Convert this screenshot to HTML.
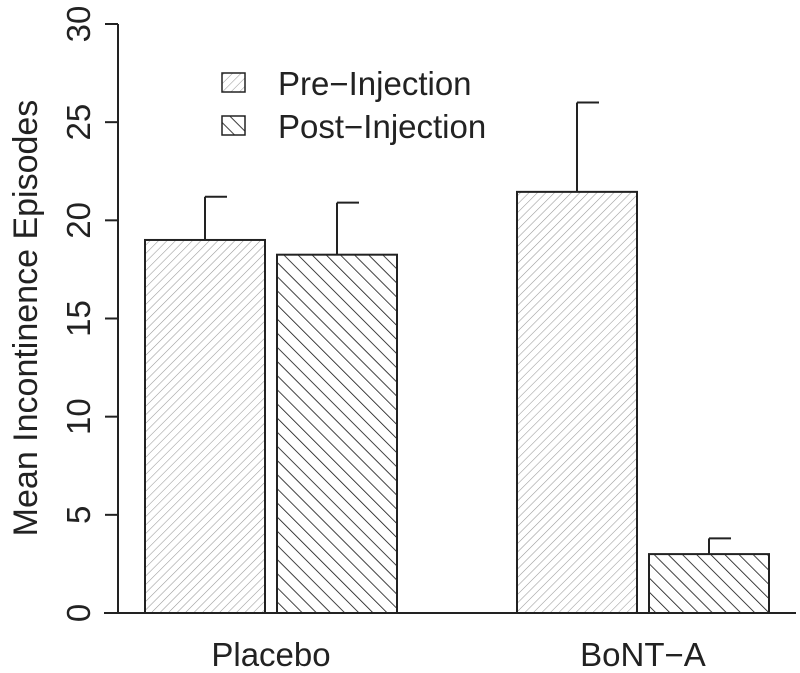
<!DOCTYPE html>
<html><head><meta charset="utf-8">
<style>
html,body{margin:0;padding:0;background:#fff;}
svg{display:block;font-family:"Liberation Sans",Arial,sans-serif;}
</style></head>
<body>
<svg id="chart" width="800" height="673" viewBox="0 0 800 673">
<defs>
<pattern id="hatchPre" patternUnits="userSpaceOnUse" width="6" height="6" patternTransform="rotate(45)">
<line x1="0" y1="0" x2="0" y2="6" stroke="#999" stroke-width="1.1"/>
</pattern>
<pattern id="hatchPost" patternUnits="userSpaceOnUse" width="10" height="10" patternTransform="rotate(-45)">
<line x1="0" y1="0" x2="0" y2="10" stroke="#111" stroke-width="1.6"/>
</pattern>
</defs>
<g id="plot"></g>
</svg>
<script>
const categories = ["Placebo", "BoNT\u2212A"];
const seriesNames = ["Pre\u2212Injection", "Post\u2212Injection"];
const preValues = [19.0, 21.45];
const postValues = [18.25, 3.0];
const preErr = [21.2, 26.0];
const postErr = [20.9, 3.8];
const yTicks = [0, 5, 10, 15, 20, 25, 30];

const NS = "http://www.w3.org/2000/svg";
const g = document.getElementById("plot");
const y0px = 613, pxPerUnit = (613 - 24) / 30;
function yScale(v){ return y0px - v * pxPerUnit; }
const groupStart = [145, 517], barW = 120, barGap = 12;
function xBar(ci, si){ return groupStart[ci] + si * (barW + barGap); }
function mk(tag, attrs){ const e = document.createElementNS(NS, tag); for (const k in attrs) e.setAttribute(k, attrs[k]); g.appendChild(e); return e; }

let bl = mk("line", {x1:104, y1:y0px, x2:796, y2:y0px, stroke:"#222", "stroke-width":2});


let ya = mk("line", {x1:118, y1:yScale(0), x2:118, y2:yScale(30), stroke:"#222", "stroke-width":2});


yTicks.forEach(t => {
  const y = yScale(t);
  let tk = mk("line", {x1:105, y1:y, x2:118, y2:y, stroke:"#222", "stroke-width":2});
  
  
  let tl = mk("text", {x:0, y:0, transform:`translate(90,${y}) rotate(-90)`, "text-anchor":"middle", "font-size":33, fill:"#222"});
  tl.textContent = t;
  
  
});
let yt = mk("text", {x:0, y:0, transform:`translate(37,318) rotate(-90)`, "text-anchor":"middle", "font-size":34, fill:"#222"});
yt.textContent = "Mean Incontinence Episodes";



const series = [[preValues, preErr, "url(#hatchPre)"], [postValues, postErr, "url(#hatchPost)"]];
categories.forEach((c, ci) => {
  series.forEach((s, si) => {
    const x = xBar(ci, si), v = s[0][ci], e = s[1][ci];
    const cx = x + barW / 2;
    let el = mk("line", {x1:cx, y1:yScale(v), x2:cx, y2:yScale(e), stroke:"#222", "stroke-width":2});
    
    
    let cap = mk("line", {x1:cx, y1:yScale(e), x2:cx + 22, y2:yScale(e), stroke:"#222", "stroke-width":2});
    
    
    let r = mk("rect", {x:x, y:yScale(v), width:barW, height:y0px - yScale(v), fill:s[2], stroke:"#222", "stroke-width":2});
    
    
  });
  let cl = mk("text", {x:groupStart[ci] + barW + barGap / 2, y:666, "text-anchor":"middle", "font-size":33, fill:"#222"});
  cl.textContent = c;
  
  
});

const legY = [73, 116], fills = ["url(#hatchPre)", "url(#hatchPost)"];
seriesNames.forEach((n, i) => {
  let b = mk("rect", {x:222, y:legY[i], width:23, height:19, fill:fills[i], stroke:"#222", "stroke-width":1.5});
  
  
  let t = mk("text", {x:278, y:legY[i] + 22, "font-size":33, fill:"#222"});
  t.textContent = n;
  
  
});
</script>
</body></html>
